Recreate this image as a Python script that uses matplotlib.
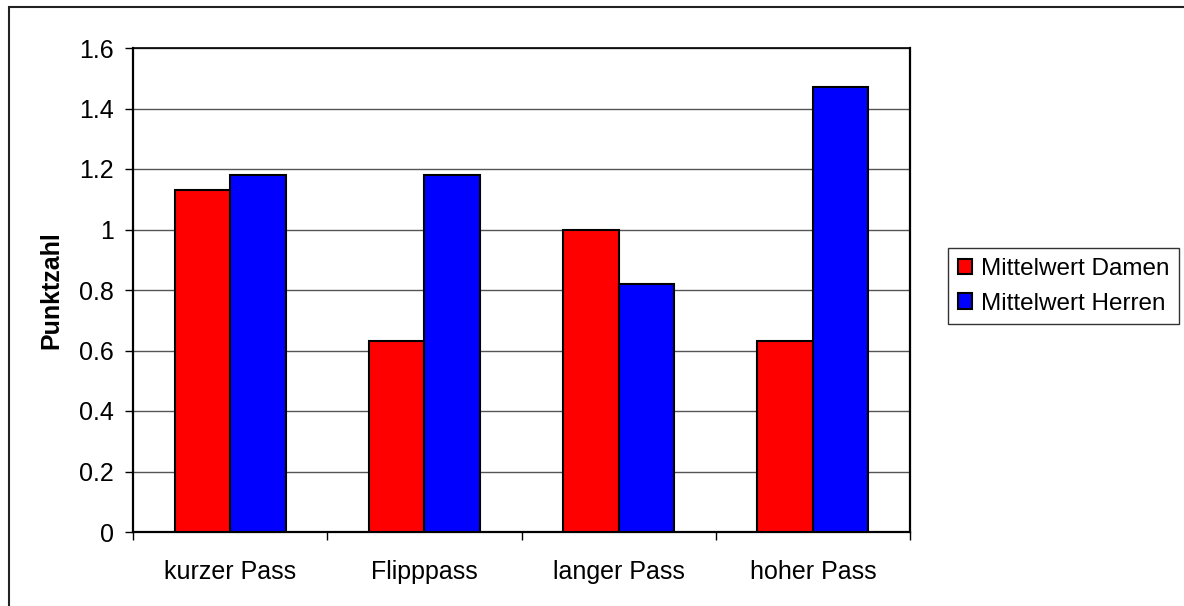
import numpy as np
import matplotlib.pyplot as plt
from matplotlib.patches import Rectangle

plt.rcParams['font.family'] = ['Liberation Sans', 'DejaVu Sans']

# ========== data =================
categories = ['kurzer Pass', 'Flipppass', 'langer Pass', 'hoher Pass']
damen = [1.13, 0.63, 1.0, 0.63]
herren = [1.18, 1.18, 0.82, 1.47]
yticks = [0, 0.2, 0.4, 0.6, 0.8, 1.0, 1.2, 1.4, 1.6]
ytick_labels = ['0', '0.2', '0.4', '0.6', '0.8', '1', '1.2', '1.4', '1.6']

W, H = 1184, 606
fs = 18
fig = plt.figure(figsize=(W / 100, H / 100), dpi=100)

# plot area in pixel coords
left, right, top, bottom = 133, 910, 48, 532
ax = fig.add_axes([left / W, 1 - bottom / H, (right - left) / W, (bottom - top) / H])

x = np.arange(len(categories))
bw = 1 / 3.5
ax.bar(x - bw / 2, damen, bw, color='#ff0000', edgecolor='black', linewidth=1.5,
       label='Mittelwert Damen', zorder=3)
ax.bar(x + bw / 2, herren, bw, color='#0000ff', edgecolor='black', linewidth=1.5,
       label='Mittelwert Herren', zorder=3)

ax.set_xlim(-0.5, len(categories) - 0.5)
ax.set_ylim(0, 1.6)
ax.set_yticks(yticks)
ax.set_yticklabels(ytick_labels, fontsize=fs)
ax.yaxis.grid(True, color='#555555', linewidth=1.0, zorder=0)

# category ticks sit between the groups
ax.set_xticks(np.arange(len(categories) + 1) - 0.5)
ax.set_xticklabels([])
ax.set_xticks(x, minor=True)
ax.set_xticklabels(categories, minor=True, fontsize=fs)
ax.tick_params(axis='x', which='minor', length=0, pad=20)
ax.tick_params(axis='x', which='major', length=6, direction='out', width=1.0)
ax.tick_params(axis='y', length=6, direction='out', width=1.0, pad=8)

for side in ['left', 'bottom']:
    ax.spines[side].set_linewidth(1.6)
ax.spines['right'].set_linewidth(1.6)
ax.spines['top'].set_linewidth(1.2)

ax.set_ylabel('Punktzahl', fontsize=fs, fontweight='bold')
ax.yaxis.set_label_coords(-70 / (right - left), 0.5)

leg = fig.legend(loc='upper left', bbox_to_anchor=(948 / W, 1 - 248 / H),
                 fontsize=17.5, frameon=True, fancybox=False, edgecolor='black',
                 handlelength=0.58, handleheight=0.58, handletextpad=0.36,
                 borderpad=0.4, labelspacing=0.53, borderaxespad=0)
leg.get_frame().set_linewidth(1.0)

# outer chart border
fig.patches.append(Rectangle((9 / W, -0.1), 1.2, 1 - 7 / H + 0.1,
                             transform=fig.transFigure, fill=False,
                             edgecolor='#222222', linewidth=1.5))

fig.savefig('out.png', dpi=100)
